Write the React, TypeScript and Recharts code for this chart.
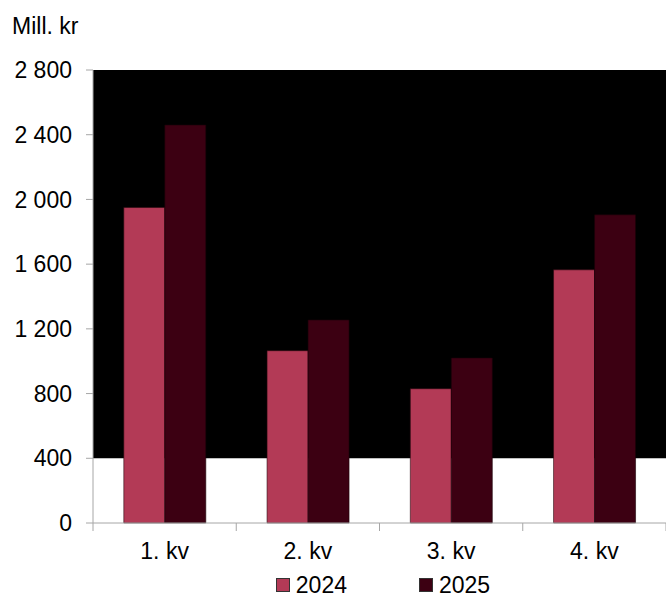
import React from "react";
import {
  BarChart,
  Bar,
  XAxis,
  YAxis,
  Legend,
  ReferenceArea,
} from "recharts";

const quarters = ["1. kv", "2. kv", "3. kv", "4. kv"];
const values2024 = [1950, 1065, 830, 1565];
const values2025 = [2460, 1255, 1020, 1905];
const yTicks = [0, 400, 800, 1200, 1600, 2000, 2400, 2800];

const COLOR_2024 = "#b33a56";
const COLOR_2025 = "#3c0012";
const AXIS = "#a6a6a6";
const FONT = "'Liberation Sans', Arial, sans-serif";
const FS = 23;

const data = quarters.map((q, i) => ({
  quarter: q,
  y2024: values2024[i],
  y2025: values2025[i],
}));

const fmt = (v: number) =>
  String(v).replace(/\B(?=(\d{3})+(?!\d))/g, " ");

// x tick: label at category centre, tick marks at category edges
function QuarterTick(props: any) {
  const { x, y, payload, index } = props;
  const half = payload.offset ?? 0;
  const last = index === quarters.length - 1;
  return (
    <g>
      <line x1={x - half} x2={x - half} y1={y - 8} y2={y} stroke={AXIS} />
      {last && (
        <line x1={x + half} x2={x + half} y1={y - 8} y2={y} stroke={AXIS} />
      )}
      <text
        x={x}
        y={y + 28}
        textAnchor="middle"
        fontSize={FS}
        fontFamily={FONT}
        fill="#000"
      >
        {payload.value}
      </text>
    </g>
  );
}

function LegendBox() {
  const items = [
    { label: "2024", color: COLOR_2024 },
    { label: "2025", color: COLOR_2025 },
  ];
  return (
    <div
      style={{
        display: "flex",
        justifyContent: "center",
        gap: 72,
        paddingLeft: 100,
        height: 28,
        fontFamily: FONT,
        fontSize: FS,
        color: "#000",
        lineHeight: "28px",
      }}
    >
      {items.map((it) => (
        <div key={it.label} style={{ display: "flex", alignItems: "center" }}>
          <span
            style={{
              display: "inline-block",
              width: 12,
              height: 12,
              background: it.color,
              border: "1px solid #333",
              marginRight: 6,
            }}
          />
          {it.label}
        </div>
      ))}
    </div>
  );
}

export default function App() {
  return (
    <div
      style={{
        position: "absolute",
        left: 0,
        top: 0,
        width: 666,
        height: 599,
        background: "#fff",
      }}
    >
      <div
        style={{
          position: "absolute",
          left: 12,
          top: 13,
          fontFamily: FONT,
          fontSize: FS,
          color: "#000",
        }}
      >
        Mill. kr
      </div>
      <BarChart
        width={666}
        height={599}
        data={data}
        margin={{ top: 70, right: 0, left: 0, bottom: 0 }}
        barCategoryGap="21.5%"
        barGap={0}
      >
        <ReferenceArea
          y1={400}
          y2={2800}
          fill="#000"
          fillOpacity={1}
          stroke="none"
        />
        <XAxis
          dataKey="quarter"
          height={48}
          axisLine={{ stroke: AXIS }}
          tickLine={false}
          tick={<QuarterTick />}
          interval={0}
        />
        <YAxis
          width={93}
          domain={[0, 2800]}
          ticks={yTicks}
          tickFormatter={fmt}
          axisLine={{ stroke: AXIS }}
          tickLine={{ stroke: AXIS }}
          tickSize={7}
          tickMargin={14}
          tick={{ fontSize: FS, fontFamily: FONT, fill: "#000" }}
        />
        <Legend verticalAlign="bottom" height={28} content={<LegendBox />} />
        <Bar
          dataKey="y2024"
          fill={COLOR_2024}
          stroke="#2a0a10"
          strokeWidth={0.6}
          isAnimationActive={false}
        />
        <Bar
          dataKey="y2025"
          fill={COLOR_2025}
          stroke="#1a0008"
          strokeWidth={0.6}
          isAnimationActive={false}
        />
      </BarChart>
    </div>
  );
}
